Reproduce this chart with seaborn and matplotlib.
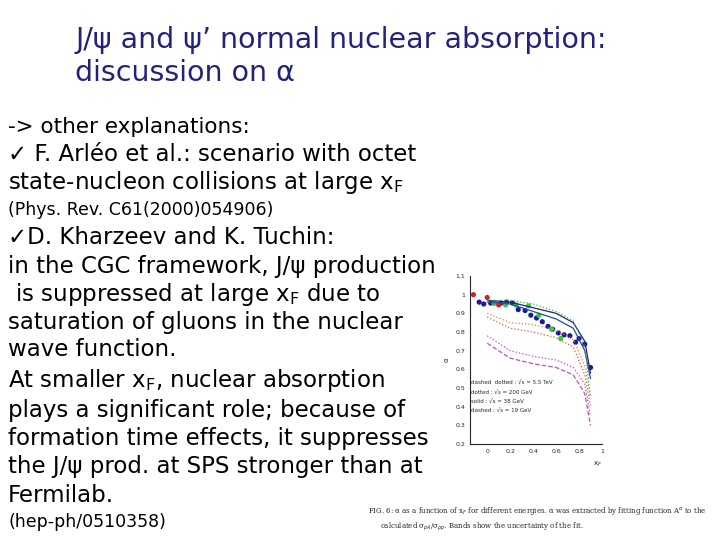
import matplotlib
matplotlib.use("Agg")
import matplotlib.pyplot as plt
import seaborn as sns
import pandas as pd

sns.set_style("white")
plt.rcParams['font.family'] = ['DejaVu Sans']

blue_x = [-0.07,-0.03,0.03,0.06,0.12,0.17,0.22,0.27,0.33,0.38,0.43,0.48,0.53,0.57,0.62,0.67,0.72,0.77,0.80,0.85,0.90]
blue_y = [0.96,0.95,0.955,0.955,0.955,0.96,0.955,0.92,0.915,0.89,0.875,0.855,0.83,0.815,0.795,0.785,0.78,0.745,0.765,0.735,0.61]
green_x = [0.06,0.16,0.25,0.36,0.45,0.56,0.64]
green_y = [0.955,0.945,0.945,0.94,0.89,0.815,0.765]
red_x = [-0.12,0.0,0.10]
red_y = [1.0,0.985,0.945]

curve_x = [0.0,0.2,0.4,0.6,0.75,0.85,0.9]
solid1 = [0.97,0.96,0.93,0.90,0.85,0.75,0.58]
solid2 = [0.96,0.95,0.91,0.87,0.82,0.70,0.55]
green_dot = [0.97,0.97,0.95,0.91,0.86,0.72,0.45]
orange1 = [0.90,0.85,0.84,0.81,0.76,0.62,0.45]
orange2 = [0.88,0.82,0.80,0.77,0.72,0.57,0.40]
mag1 = [0.78,0.70,0.67,0.65,0.61,0.52,0.35]
mag2 = [0.74,0.66,0.63,0.61,0.57,0.47,0.30]

fig = plt.figure(figsize=(7.2,5.4), dpi=100)
navy = "#22227a"
fig.text(75/720, 1-40/540, "J/ψ and ψ’ normal nuclear absorption:", color=navy, fontsize=20.5, va="center")
fig.text(75/720, 1-73/540, "discussion on α", color=navy, fontsize=20.5, va="center")

lines = [
 (127, "-> other explanations:", 15.5),
 (155, "✓ F. Arléo et al.: scenario with octet", 16.5),
 (183, "state-nucleon collisions at large x$_{\\mathrm{F}}$", 16.5),
 (210, "(Phys. Rev. C61(2000)054906)", 12.5),
 (238, "✓D. Kharzeev and K. Tuchin:", 16.5),
 (266, "in the CGC framework, J/ψ production", 16.5),
 (294, " is suppressed at large x$_{\\mathrm{F}}$ due to", 16.5),
 (322, "saturation of gluons in the nuclear", 16.5),
 (350, "wave function.", 16.5),
 (381, "At smaller x$_{\\mathrm{F}}$, nuclear absorption", 16.5),
 (410, "plays a significant role; because of", 16.5),
 (438, "formation time effects, it suppresses", 16.5),
 (466, "the J/ψ prod. at SPS stronger than at", 16.5),
 (495, "Fermilab.", 16.5),
 (522, "(hep-ph/0510358)", 12.5),
]
for y, t, fs in lines:
    fig.text(8/720, 1-y/540, t, fontsize=fs, va="center", color="black")

fig.text(368/720, 1-511/540, "FIG. 6: α as a function of x$_F$ for different energies. α was extracted by fitting function A$^α$ to the",
         fontsize=5, family="DejaVu Serif", va="center")
fig.text(380/720, 1-527/540, "calculated σ$_{pA}$/σ$_{pp}$. Bands show the uncertainty of the fit.",
         fontsize=5, family="DejaVu Serif", va="center")

ax = fig.add_axes([470/720, 1-444/540, 132/720, 168/540])
for ys, c, ls in [(solid1, navy, "-"), (solid2, "#2a4aa0", "-"), (green_dot, "#44bb44", ":"),
                  (orange1, "#dd8833", ":"), (orange2, "#cc6644", ":"),
                  (mag1, "#cc44cc", ":"), (mag2, "#bb55bb", "--")]:
    sns.lineplot(x=curve_x, y=ys, ax=ax, color=c, linestyle=ls, linewidth=0.9)
sns.scatterplot(x=blue_x, y=blue_y, ax=ax, color="#1a1a99", s=14, edgecolor="none")
sns.scatterplot(x=green_x, y=green_y, ax=ax, color="#33cc33", s=14, edgecolor="none")
sns.scatterplot(x=red_x, y=red_y, ax=ax, color="#cc2222", s=14, edgecolor="none")
ax.set_xlim(-0.15, 1.0)
ax.set_ylim(0.2, 1.1)
ax.set_xticks([0,0.2,0.4,0.6,0.8,1])
ax.set_xticklabels(["0","0.2","0.4","0.6","0.8","1"])
ax.set_yticks([0.2,0.3,0.4,0.5,0.6,0.7,0.8,0.9,1.0,1.1])
ax.set_yticklabels(["0.2","0.3","0.4","0.5","0.6","0.7","0.8","0.9","1","1.1"])
ax.tick_params(labelsize=4.5, length=2, direction="in")
ax.set_xlabel("x$_F$", fontsize=5, loc="right")
ax.set_ylabel("α", fontsize=5)
for s in ["top","right"]:
    ax.spines[s].set_visible(False)
for i, t in enumerate(["dashed  dotted : √s = 5.5 TeV", "dotted : √s = 200 GeV",
                       "solid : √s = 38 GeV", "dashed : √s = 19 GeV"]):
    ax.text(-0.14, 0.53 - i*0.05, t, fontsize=4, va="center")

fig.savefig("out.png", dpi=100)
